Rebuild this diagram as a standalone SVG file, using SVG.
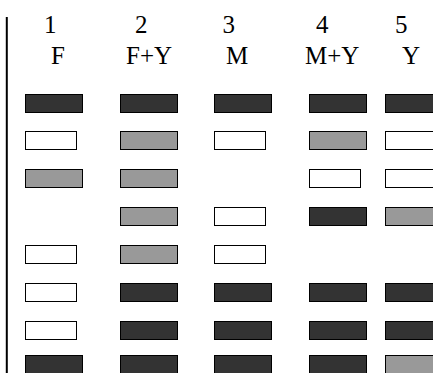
<svg xmlns="http://www.w3.org/2000/svg" width="433" height="373" viewBox="0 0 433 373">
<style>
text{font-family:"Liberation Serif","Times New Roman",serif;font-size:25px;fill:#000}
.d{fill:#333333;stroke:#000;stroke-width:1}
.g{fill:#999999;stroke:#000;stroke-width:1}
.w{fill:#ffffff;stroke:#000;stroke-width:1}
</style>
<rect width="433" height="373" fill="#fff"/>
<g id="axis"><line x1="6.8" y1="17" x2="6.8" y2="373" stroke="#000" stroke-width="2"/></g>
<g id="headers">
<text x="44" y="33">1</text><text x="51" y="64">F</text>
<text x="135" y="33">2</text><text x="126" y="64">F+Y</text>
<text x="222.5" y="33">3</text><text x="226" y="64">M</text>
<text x="316" y="33">4</text><text x="305" y="64">M+Y</text>
<text x="395" y="33">5</text><text x="402" y="64">Y</text>
</g>
<g id="lane1">
<rect class="d" x="25.5" y="94.5" width="57" height="18"/>
<rect class="w" x="25.5" y="131.5" width="51" height="18"/>
<rect class="g" x="25.5" y="169.5" width="57" height="18"/>
<rect class="w" x="25.5" y="245.5" width="51" height="18"/>
<rect class="w" x="25.5" y="283.5" width="51" height="18"/>
<rect class="w" x="25.5" y="321.5" width="51" height="18"/>
<rect class="d" x="25.5" y="355.5" width="57" height="18"/>
</g>
<g id="lane2">
<rect class="d" x="120.5" y="94.5" width="57" height="18"/>
<rect class="g" x="120.5" y="131.5" width="57" height="18"/>
<rect class="g" x="120.5" y="169.5" width="57" height="18"/>
<rect class="g" x="120.5" y="207.5" width="57" height="18"/>
<rect class="g" x="120.5" y="245.5" width="57" height="18"/>
<rect class="d" x="120.5" y="283.5" width="57" height="18"/>
<rect class="d" x="120.5" y="321.5" width="57" height="18"/>
<rect class="d" x="120.5" y="355.5" width="57" height="18"/>
</g>
<g id="lane3">
<rect class="d" x="214.5" y="94.5" width="57" height="18"/>
<rect class="w" x="214.5" y="131.5" width="51" height="18"/>
<rect class="w" x="214.5" y="207.5" width="51" height="18"/>
<rect class="w" x="214.5" y="245.5" width="51" height="18"/>
<rect class="d" x="214.5" y="283.5" width="57" height="18"/>
<rect class="d" x="214.5" y="321.5" width="57" height="18"/>
<rect class="d" x="214.5" y="355.5" width="57" height="18"/>
</g>
<g id="lane4">
<rect class="d" x="309.5" y="94.5" width="57" height="18"/>
<rect class="g" x="309.5" y="131.5" width="57" height="18"/>
<rect class="w" x="309.5" y="169.5" width="51" height="18"/>
<rect class="d" x="309.5" y="207.5" width="57" height="18"/>
<rect class="d" x="309.5" y="283.5" width="57" height="18"/>
<rect class="d" x="309.5" y="321.5" width="57" height="18"/>
<rect class="d" x="309.5" y="355.5" width="57" height="18"/>
</g>
<g id="lane5">
<rect class="d" x="385.5" y="94.5" width="57" height="18"/>
<rect class="w" x="385.5" y="131.5" width="51" height="18"/>
<rect class="w" x="385.5" y="169.5" width="51" height="18"/>
<rect class="g" x="385.5" y="207.5" width="57" height="18"/>
<rect class="d" x="385.5" y="283.5" width="57" height="18"/>
<rect class="d" x="385.5" y="321.5" width="57" height="18"/>
<rect class="g" x="385.5" y="355.5" width="57" height="18"/>
</g>
</svg>
